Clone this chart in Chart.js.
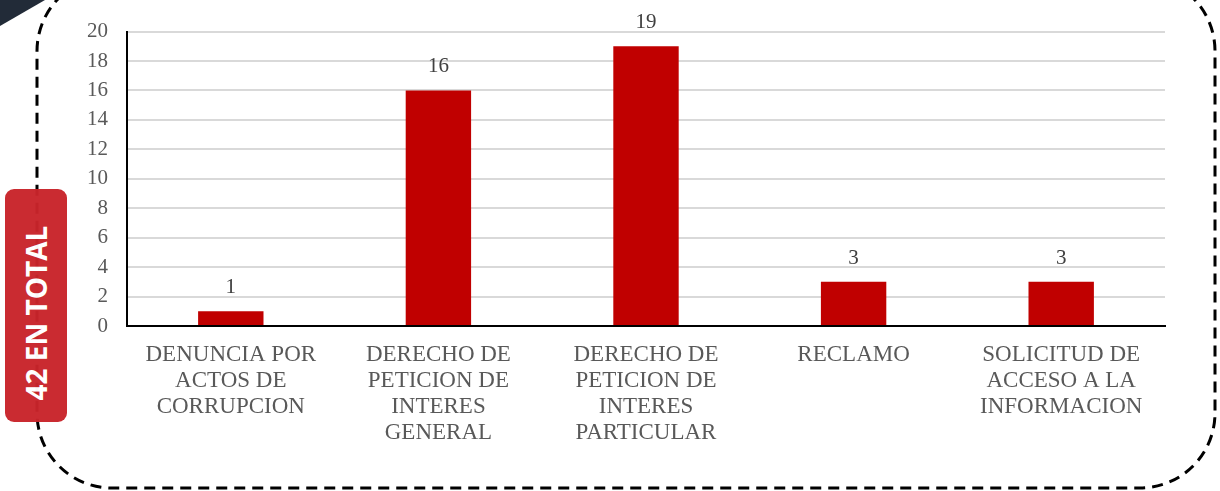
<!DOCTYPE html>
<html>
<head>
<meta charset="utf-8">
<script src="https://cdn.jsdelivr.net/npm/chart.js@4"></script>
<style>
  html, body { margin: 0; padding: 0; background: #fff; }
  #wrap { position: relative; width: 1220px; height: 491px; overflow: hidden; }
  #frame { position: absolute; left: 0; top: 0; }
  #corner {
    position: absolute; left: 0; top: 0; width: 0; height: 0;
    border-top: 26px solid #222b38; border-right: 45px solid transparent;
  }
  #total {
    position: absolute; left: 5px; top: 189px; width: 62px; height: 233px;
    background: #c9252b; border-radius: 9px; opacity: 0.97;
  }
  #total span {
    position: absolute; left: 31px; top: 124px; transform: translate(-50%, -50%) rotate(-90deg);
    white-space: nowrap; color: #fff; font: bold 28px "Open Sans", "DejaVu Sans", sans-serif;
  }
  #chartBox { position: absolute; left: 0; top: 0; width: 1220px; height: 491px; }
</style>
</head>
<body>
<div id="wrap">
  <svg id="frame" width="1220" height="491">
    <rect x="37" y="-24" width="1178" height="512" rx="75" ry="75"
          fill="none" stroke="#000" stroke-width="3" stroke-dasharray="11 7"/>
  </svg>
  <div id="corner"></div>
  <div id="chartBox"><canvas id="myChart" width="1220" height="491"></canvas></div>
  <div id="total"><span>42 EN TOTAL</span></div>
</div>
<script>
// Data
const categories = [
  ['DENUNCIA POR', 'ACTOS DE', 'CORRUPCION'],
  ['DERECHO DE', 'PETICION DE', 'INTERES', 'GENERAL'],
  ['DERECHO DE', 'PETICION DE', 'INTERES', 'PARTICULAR'],
  ['RECLAMO'],
  ['SOLICITUD DE', 'ACCESO A LA', 'INFORMACION']
];
const counts = [1, 16, 19, 3, 3];
const yTicks = [0, 2, 4, 6, 8, 10, 12, 14, 16, 18, 20];

const serif = '"Liberation Serif", "DejaVu Serif", serif';

// Draw the value above each bar
const valueLabels = {
  id: 'valueLabels',
  afterDatasetsDraw(chart) {
    const ctx = chart.ctx;
    const meta = chart.getDatasetMeta(0);
    ctx.save();
    ctx.font = '21px ' + serif;
    ctx.fillStyle = '#404040';
    ctx.textAlign = 'center';
    ctx.textBaseline = 'alphabetic';
    meta.data.forEach((bar, i) => {
      ctx.fillText(String(counts[i]), bar.x, bar.y - 18);
    });
    ctx.restore();
  }
};

const ctx = document.getElementById('myChart').getContext('2d');
new Chart(ctx, {
  type: 'bar',
  data: {
    labels: categories,
    datasets: [{
      data: counts,
      backgroundColor: '#c00000',
      barPercentage: 0.315,
      categoryPercentage: 1
    }]
  },
  options: {
    responsive: false,
    animation: false,
    layout: { padding: { left: 0, right: 55, top: 30, bottom: 0 } },
    plugins: { legend: { display: false }, tooltip: { enabled: false } },
    scales: {
      x: {
        grid: { display: false, drawTicks: false },
        border: { color: '#000', width: 2 },
        ticks: {
          color: '#595959', padding: 16, maxRotation: 0, autoSkip: false,
          font: { family: serif, size: 23, lineHeight: 1.13 }
        },
        afterFit(scale) { scale.height = 165; }
      },
      y: {
        min: 0, max: 20,
        afterBuildTicks(scale) { scale.ticks = yTicks.map(v => ({ value: v })); },
        grid: { color: '#d9d9d9', lineWidth: 2, drawTicks: false },
        border: { color: '#000', width: 2 },
        ticks: {
          color: '#595959', padding: 19,
          font: { family: serif, size: 21 }
        },
        afterFit(scale) { scale.width = 127; }
      }
    }
  },
  plugins: [valueLabels]
});
</script>
</body>
</html>
